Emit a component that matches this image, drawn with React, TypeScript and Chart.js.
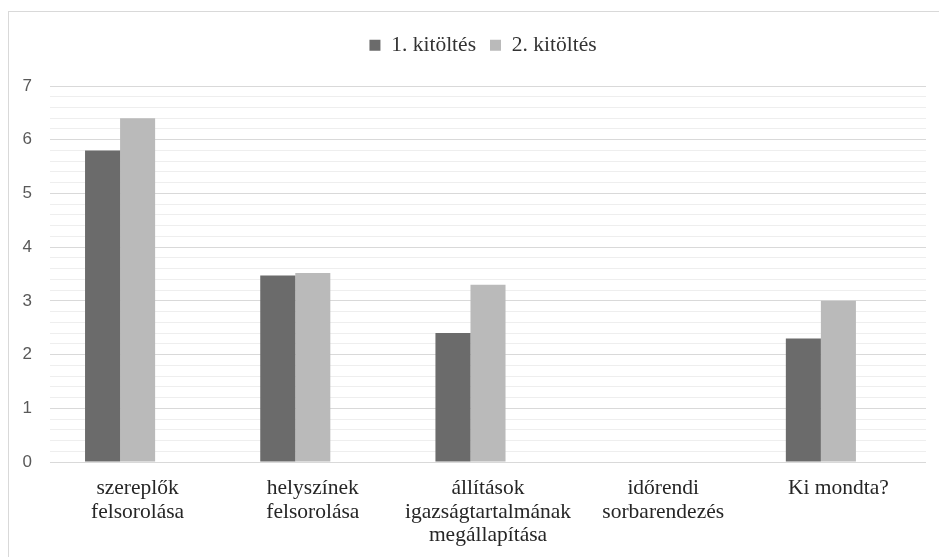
import React, { useEffect, useRef } from "react";
import { Chart, registerables } from "chart.js";

Chart.register(...registerables);

const categories: string[][] = [
  ["szereplők", "felsorolása"],
  ["helyszínek", "felsorolása"],
  ["állítások", "igazságtartalmának", "megállapítása"],
  ["időrendi", "sorbarendezés"],
  ["Ki mondta?"],
];

const series1Label = "1. kitöltés";
const series2Label = "2. kitöltés";
const series1: (number | null)[] = [5.8, 3.47, 2.4, 0, 2.3];
const series2: (number | null)[] = [6.4, 3.52, 3.3, 0, 3.0];
// empty third slot present in the original grouping
const series3: (number | null)[] = [null, null, null, null, null];

const yMin = 0;
const yMax = 7;
const yStep = 0.2;

const isWhole = (v: number) => Math.abs(v - Math.round(v)) < 1e-6;

export default function App() {
  const canvasRef = useRef<HTMLCanvasElement | null>(null);

  useEffect(() => {
    if (!canvasRef.current) return;
    const chart = new Chart(canvasRef.current, {
      type: "bar",
      data: {
        labels: categories,
        datasets: [
          { label: series1Label, data: series1, backgroundColor: "#6b6b6b", borderWidth: 0 },
          { label: series2Label, data: series2, backgroundColor: "#bababa", borderWidth: 0 },
          { label: "", data: series3, backgroundColor: "rgba(0,0,0,0)", borderWidth: 0 },
        ],
      },
      options: {
        animation: false,
        responsive: true,
        maintainAspectRatio: false,
        events: [],
        layout: { padding: { left: 0, right: 0, top: 20.5, bottom: 0 } },
        datasets: { bar: { categoryPercentage: 0.6, barPercentage: 1.0 } },
        plugins: {
          tooltip: { enabled: false },
          title: {
            display: true,
            text: "",
            weight: 500,
            padding: { top: 19, bottom: 0 },
            font: { size: 1, lineHeight: 1 },
          } as any,
          legend: {
            display: true,
            position: "top",
            labels: {
              boxWidth: 11,
              boxHeight: 11,
              padding: 14,
              color: "#333333",
              font: { family: "'Liberation Serif', 'Times New Roman', serif", size: 21.5 },
              filter: (item: any) => item.datasetIndex !== 2,
            },
          },
        },
        scales: {
          x: {
            offset: true,
            grid: { display: false, drawTicks: false },
            border: { display: false },
            ticks: {
              autoSkip: false,
              maxRotation: 0,
              minRotation: 0,
              padding: 15,
              color: "#262626",
              font: { family: "'Liberation Serif', 'Times New Roman', serif", size: 21.5, lineHeight: 1.093 },
            },
            afterFit: (scale: any) => {
              scale.height = 95;
              scale.paddingRight = 40;
            },
          },
          y: {
            min: yMin,
            max: yMax,
            border: { display: false },
            grid: {
              drawTicks: false,
              lineWidth: 1,
              color: (ctx: any) =>
                ctx.tick && isWhole(ctx.tick.value) ? "#d9d9d9" : "#eeeeee",
            },
            ticks: {
              stepSize: yStep,
              autoSkip: false,
              padding: 18,
              color: "#595959",
              font: { family: "'Liberation Sans', Arial, sans-serif", size: 17 },
              callback: (v: any) => (isWhole(Number(v)) ? String(Math.round(Number(v))) : ""),
            },
            afterFit: (scale: any) => {
              scale.width = 50;
            },
          },
        },
      },
    });
    return () => chart.destroy();
  }, []);

  return (
    <div
      style={{
        position: "fixed",
        left: 0,
        top: 0,
        width: 939,
        height: 557,
        background: "#ffffff",
        overflow: "hidden",
      }}
    >
      <div
        style={{
          position: "absolute",
          left: 8,
          top: 11,
          width: 1000,
          height: 1000,
          borderTop: "1px solid #d9d9d9",
          borderLeft: "1px solid #d9d9d9",
        }}
      />
      <div style={{ position: "absolute", left: 0, top: 0, width: 966, height: 557 }}>
        <canvas ref={canvasRef} />
      </div>
    </div>
  );
}
